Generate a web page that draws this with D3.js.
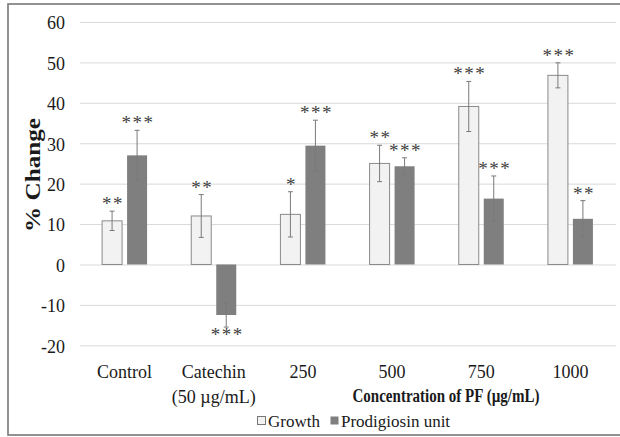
<!DOCTYPE html>
<html>
<head>
<meta charset="utf-8">
<script src="https://cdn.jsdelivr.net/npm/d3@7"></script>
<style>
    body { margin: 0; background: #fff; }
    svg text { font-family: "Liberation Serif", "Times New Roman", serif !important; }
</style>
</head>
<body>
<div id="wrapper"></div>
<script>
const categories = ["Control", "Catechin\n(50 µg/mL)", "250", "500", "750", "1000"]
const seriesNames = ["Growth", "Prodigiosin unit"]
const growth = [10.8, 12, 12.4, 25, 39.1, 46.8]
const growthErr = [2.4, 5.3, 5.6, 4.5, 6.2, 3.1]
const prodigiosin = [27, -12.5, 29.4, 24.3, 16.3, 11.3]
const prodigiosinErr = [6.2, 3, 6.3, 2.1, 5.6, 4.5]
const growthStars = ["**", "**", "*", "**", "***", "***"]
const prodigiosinStars = ["***", "***", "***", "***", "***", "**"]
const yTicks = [-20, -10, 0, 10, 20, 30, 40, 50, 60]

const serif = "'Liberation Serif', 'Times New Roman', serif"

function drawChart() {
    let dimensions = {
        width: 620,
        height: 437,
        margin: {
            top: 22,
            right: 5,
            bottom: 91.7,
            left: 80
        },
    }
    dimensions.boundedWidth = dimensions.width
        - dimensions.margin.left
        - dimensions.margin.right
    dimensions.boundedHeight = dimensions.height
        - dimensions.margin.top
        - dimensions.margin.bottom

    const colors = {
        "Growth": { fill: "#f2f2f2", stroke: "#8a8a8a" },
        "Prodigiosin unit": { fill: "#7f7f7f", stroke: "none" }
    }

    const dataset = categories.map((c, i) => ({
        category: c,
        values: [
            { key: "Growth", value: growth[i], err: growthErr[i], stars: growthStars[i] },
            { key: "Prodigiosin unit", value: prodigiosin[i], err: prodigiosinErr[i], stars: prodigiosinStars[i] }
        ]
    }))

    const wrapper = d3.select("#wrapper")
        .append("svg")
        .attr("width", dimensions.width)
        .attr("height", dimensions.height)
        .attr("font-family", serif)

    // outer frame
    wrapper.append("rect")
        .attr("x", 8)
        .attr("y", 4)
        .attr("width", 640)
        .attr("height", 431)
        .attr("fill", "none")
        .attr("stroke", "#777")
        .attr("stroke-width", 1.6)

    const bounds = wrapper.append("g")
        .attr("transform", `translate(${dimensions.margin.left},${dimensions.margin.top})`)

    const xScale = d3.scaleBand()
        .domain(categories)
        .range([0, dimensions.boundedWidth])
        .padding(0)

    const xSub = d3.scaleBand()
        .domain(seriesNames)
        .range([xScale.bandwidth() / 2 - 22.5, xScale.bandwidth() / 2 + 22.5])
        .paddingInner(0.2)

    const yScale = d3.scaleLinear()
        .domain([-20, 60])
        .range([dimensions.boundedHeight, 0])

    const yAxisGenerator = d3.axisLeft()
        .scale(yScale)
        .tickValues(yTicks)
        .tickFormat(d => String(d))
        .tickSizeInner(-(dimensions.boundedWidth + 1))
        .tickSizeOuter(0)
        .tickPadding(15)

    const yAxis = bounds.append("g")
        .call(yAxisGenerator)
        .attr("font-family", serif)
    yAxis.select(".domain").remove()
    yAxis.selectAll(".tick line")
        .attr("stroke", "#d9d9d9")
        .attr("stroke-width", 1)
    yAxis.selectAll(".tick text")
        .attr("fill", "#1a1a1a")
        .style("font-size", "18px")
        .attr("dy", "0.38em")

    const groups = bounds.selectAll(".group")
        .data(dataset)
        .enter()
        .append("g")
        .attr("transform", d => `translate(${xScale(d.category)},0)`)

    const bars = groups.selectAll(".bar")
        .data(d => d.values)
        .enter()

    bars.append("rect")
        .attr("x", d => xSub(d.key))
        .attr("y", d => yScale(Math.max(0, d.value)))
        .attr("width", xSub.bandwidth())
        .attr("height", d => Math.abs(yScale(d.value) - yScale(0)))
        .attr("fill", d => colors[d.key].fill)
        .attr("stroke", d => colors[d.key].stroke)
        .attr("stroke-width", 1)

    // error bars
    const errColor = "#7a7a7a"
    bars.append("line")
        .attr("x1", d => xSub(d.key) + xSub.bandwidth() / 2)
        .attr("x2", d => xSub(d.key) + xSub.bandwidth() / 2)
        .attr("y1", d => yScale(d.value + d.err))
        .attr("y2", d => yScale(d.value - d.err))
        .attr("stroke", errColor)
        .attr("stroke-width", 1)
    bars.append("line")
        .attr("x1", d => xSub(d.key) + xSub.bandwidth() / 2 - 2.5)
        .attr("x2", d => xSub(d.key) + xSub.bandwidth() / 2 + 2.5)
        .attr("y1", d => yScale(d.value + d.err))
        .attr("y2", d => yScale(d.value + d.err))
        .attr("stroke", errColor)
    bars.append("line")
        .attr("x1", d => xSub(d.key) + xSub.bandwidth() / 2 - 2.5)
        .attr("x2", d => xSub(d.key) + xSub.bandwidth() / 2 + 2.5)
        .attr("y1", d => yScale(d.value - d.err))
        .attr("y2", d => yScale(d.value - d.err))
        .attr("stroke", errColor)

    // significance stars
    bars.append("text")
        .attr("x", d => xSub(d.key) + xSub.bandwidth() / 2 + 1)
        .attr("y", d => d.value >= 0
            ? yScale(d.value + d.err) - 1
            : yScale(d.value - d.err) + 14)
        .attr("text-anchor", "middle")
        .attr("fill", "#404040")
        .style("font-size", "19px")
        .style("letter-spacing", "1.5px")
        .text(d => d.stars)

    // x axis labels
    const xAxisGenerator = d3.axisBottom()
        .scale(xScale)
        .tickSize(0)
        .tickPadding(20)

    const xAxis = bounds.append("g")
        .attr("transform", `translate(0,${dimensions.boundedHeight})`)
        .call(xAxisGenerator)
        .attr("font-family", serif)
    xAxis.select(".domain").remove()
    xAxis.selectAll(".tick text")
        .attr("fill", "#1a1a1a")
        .style("font-size", "18px")
        .each(function (d) {
            const lines = d.split("\n")
            const t = d3.select(this).text(null)
            lines.forEach((l, i) => {
                t.append("tspan")
                    .attr("x", 0)
                    .attr("dy", i === 0 ? "0.71em" : "1.39em")
                    .text(l)
            })
        })

    xAxis.append("text")
        .attr("x", 446 - dimensions.margin.left)
        .attr("y", 402 - 22 - dimensions.boundedHeight)
        .attr("text-anchor", "middle")
        .attr("fill", "#1a1a1a")
        .style("font-size", "18px")
        .style("font-weight", "bold")
        .attr("textLength", 187)
        .attr("lengthAdjust", "spacingAndGlyphs")
        .text("Concentration of PF (µg/mL)")

    // y axis title
    wrapper.append("text")
        .attr("transform", "translate(40,175) rotate(-90)")
        .attr("text-anchor", "middle")
        .attr("fill", "#1a1a1a")
        .style("font-size", "22px")
        .style("font-weight", "bold")
        .attr("textLength", 114)
        .attr("lengthAdjust", "spacingAndGlyphs")
        .text("% Change")

    // legend
    const legend = wrapper.append("g")
        .attr("transform", "translate(257,427)")
    const legendItems = [
        { key: "Growth", x: 0 },
        { key: "Prodigiosin unit", x: 73 }
    ]
    legendItems.forEach(item => {
        legend.append("rect")
            .attr("x", item.x + 0.5)
            .attr("y", -10.5)
            .attr("width", 8)
            .attr("height", 8)
            .attr("fill", colors[item.key].fill)
            .attr("stroke", item.key === "Growth" ? "#777" : "none")
        legend.append("text")
            .attr("x", item.x + 11)
            .attr("y", 0)
            .attr("fill", "#1a1a1a")
            .style("font-size", "17px")
            .text(item.key)
    })
}

drawChart()
</script>
</body>
</html>
